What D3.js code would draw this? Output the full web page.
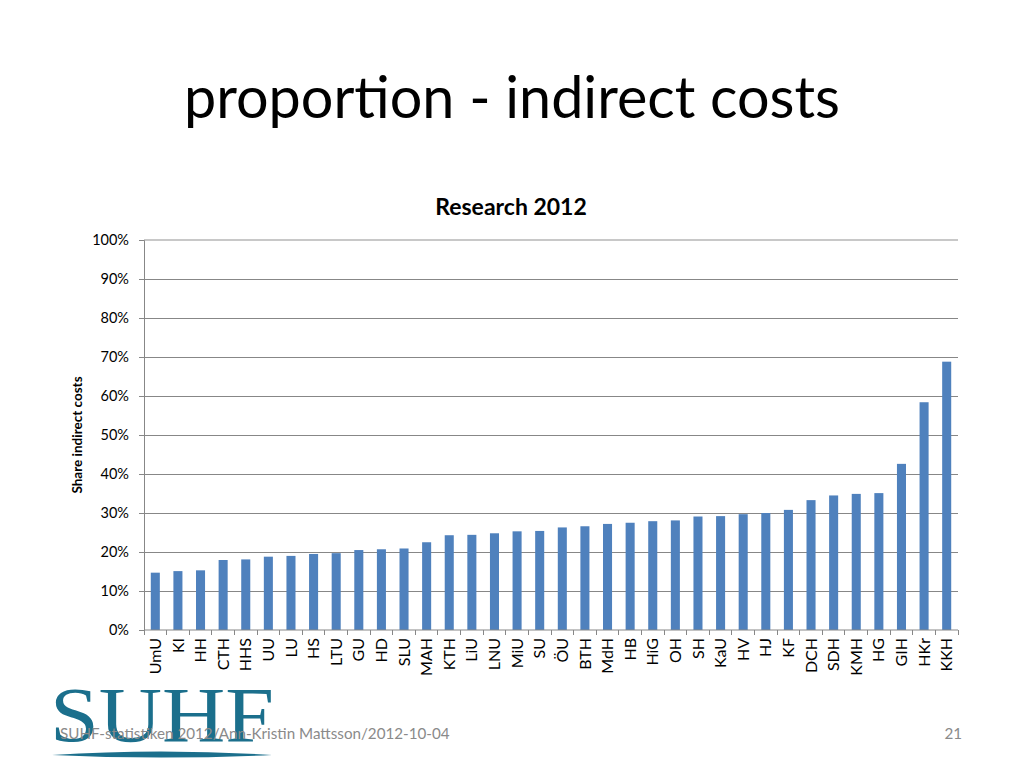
<!DOCTYPE html>
<html><head><meta charset="utf-8">
<script src="https://cdn.jsdelivr.net/npm/d3@7"></script>
<style>body{margin:0;background:#fff}svg{display:block}</style>
</head><body>
<script>
const categories = ["UmU","KI","HH","CTH","HHS","UU","LU","HS","LTU","GU","HD","SLU","MAH","KTH","LiU","LNU","MiU","SU","ÖU","BTH","MdH","HB","HiG","OH","SH","KaU","HV","HJ","KF","DCH","SDH","KMH","HG","GIH","HKr","KKH"];
const values = [14.7,15.1,15.3,17.95,18.1,18.8,19.0,19.5,19.7,20.5,20.7,20.9,22.5,24.3,24.4,24.8,25.3,25.4,26.3,26.6,27.2,27.5,27.9,28.1,29.1,29.2,29.7,30.0,30.8,33.3,34.5,34.9,35.1,42.6,58.4,68.8];
const yTicks = [0,10,20,30,40,50,60,70,80,90,100];

const W=1024,H=768;
const svg=d3.select("body").append("svg").attr("width",W).attr("height",H);
const font="Lato, 'Open Sans', sans-serif";

// Logo
const logo=svg.append("g");
logo.append("text").attr("x",50).attr("y",741).attr("font-family","'Liberation Serif', serif")
  .attr("font-size",78).attr("fill","#1b6f8c").attr("textLength",224).attr("lengthAdjust","spacingAndGlyphs").text("SUHF");
logo.append("path").attr("d","M52,755 Q160,748 272,755 Q160,760 52,755 Z").attr("fill","#1b6f8c");

// Title
svg.append("text").attr("x",512).attr("y",118).attr("text-anchor","middle")
  .attr("font-family",font).attr("font-size",57.5).attr("fill","#000").text("proportion - indirect costs");

const x0=144,x1=958,yTop=240,yBot=630;
const x=d3.scaleBand().domain(categories).range([x0,x1]).paddingInner(0.6).paddingOuter(0.3);
const xb=d3.scaleBand().domain(categories).range([x0,x1]);
const y=d3.scaleLinear().domain([0,100]).range([yBot,yTop]);

// gridlines
svg.append("g").selectAll("line").data(yTicks.filter(d=>d>0)).join("line")
  .attr("x1",x0).attr("x2",x1).attr("y1",d=>y(d)).attr("y2",d=>y(d))
  .attr("stroke",d=>d===100?"#c8c8c8":"#878787").attr("stroke-width",d=>d===100?2:1).attr("shape-rendering","crispEdges");

// bars
svg.append("g").selectAll("rect").data(values).join("rect")
  .attr("x",(d,i)=>x(categories[i])).attr("width",x.bandwidth())
  .attr("y",d=>y(d)).attr("height",d=>yBot-y(d)).attr("fill","#4f81bd");

// y axis
const ya=svg.append("g").attr("transform",`translate(${x0},0)`)
  .call(d3.axisLeft(y).tickValues(yTicks).tickFormat(d=>d+"%").tickSize(5).tickPadding(10));
ya.select(".domain").attr("stroke","#878787");
ya.selectAll(".tick line").attr("stroke","#878787");
ya.selectAll("text").attr("font-family",font).attr("font-size",14.5).attr("fill","#000");

// x axis
const xa=svg.append("g").attr("transform",`translate(0,${yBot})`)
  .call(d3.axisBottom(xb).tickSize(0).tickPadding(0));
xa.select(".domain").attr("stroke","#878787").attr("d",`M${x0},0H${x1}`);
xa.selectAll(".tick text").attr("font-family",font).attr("font-size",16).attr("fill","#000")
  .attr("transform","rotate(-90)").attr("text-anchor","end").attr("x",-8).attr("y",0).attr("dy","0.35em");
// category separator ticks
svg.append("g").selectAll("line").data(d3.range(categories.length+1)).join("line")
  .attr("x1",i=>x0+i*xb.step()).attr("x2",i=>x0+i*xb.step()).attr("y1",yBot).attr("y2",yBot+5)
  .attr("stroke","#878787").attr("shape-rendering","crispEdges");

// chart title
svg.append("text").attr("x",511).attr("y",215).attr("text-anchor","middle")
  .attr("font-family",font).attr("font-weight","bold").attr("font-size",23).text("Research 2012");

// y axis title
svg.append("text").attr("transform","translate(82,435) rotate(-90)").attr("text-anchor","middle")
  .attr("font-family",font).attr("font-weight","bold").attr("font-size",13.5).text("Share indirect costs");

// footer
svg.append("text").attr("x",60).attr("y",739).attr("font-family",font).attr("font-size",15.2)
  .attr("fill","#8a8a8a").text("SUHF-statistiken 2012/Ann-Kristin Mattsson/2012-10-04");
svg.append("text").attr("x",962).attr("y",739).attr("text-anchor","end").attr("font-family",font).attr("font-size",15.2)
  .attr("fill","#8a8a8a").text("21");
</script>
</body></html>
